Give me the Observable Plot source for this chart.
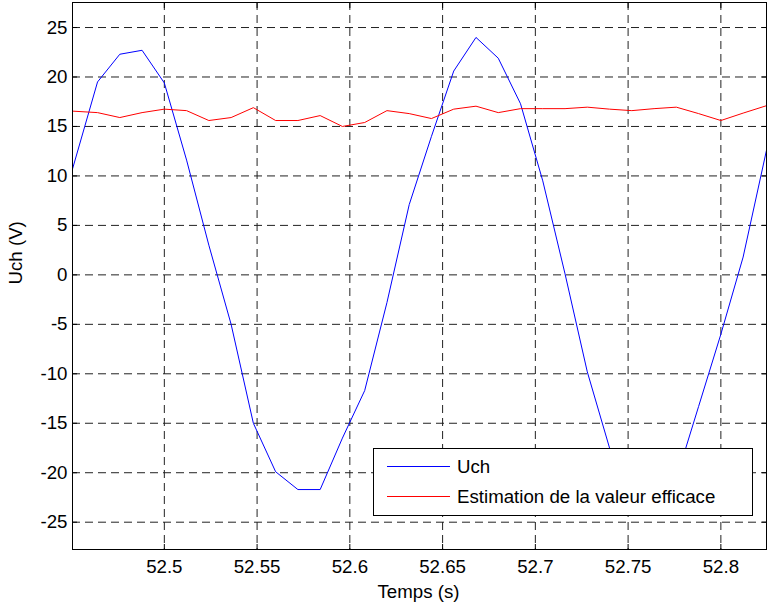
<!DOCTYPE html>
<html>
<head>
<meta charset="utf-8">
<script src="https://cdn.jsdelivr.net/npm/d3@7"></script>
<script src="https://cdn.jsdelivr.net/npm/@observablehq/plot@0.6"></script>
<style>
  html, body { margin: 0; padding: 0; background: #fff; }
  #wrap { position: relative; width: 767px; height: 603px; font-family: "Liberation Sans", Arial, sans-serif; }
  #legend { position: absolute; left: 373px; top: 448px; }
</style>
</head>
<body>
<div id="wrap"></div>
<script>
// Time samples (s)
const times = [52.4505, 52.464, 52.476, 52.488, 52.500, 52.512, 52.524, 52.536, 52.548, 52.560,
  52.572, 52.584, 52.596, 52.608, 52.620, 52.632, 52.644, 52.656, 52.668, 52.680,
  52.692, 52.704, 52.716, 52.728, 52.740, 52.752, 52.764, 52.776, 52.788, 52.800,
  52.812, 52.8246];
// Uch (V)
const uch = [10.7, 19.5, 22.3, 22.7, 19.4, 11.6, 3.0, -5.0, -15.0, -19.9,
  -21.7, -21.7, -16.5, -11.7, -2.8, 7.1, 14.0, 20.6, 24.0, 21.9,
  17.3, 9.5, 0.1, -9.8, -17.5, -21.3, -21.9, -20.6, -13.3, -6.0,
  1.8, 12.6];
// Estimation de la valeur efficace
const rms = [16.55, 16.4, 15.9, 16.4, 16.75, 16.6, 15.6, 15.9, 16.9, 15.6,
  15.6, 16.1, 15.0, 15.4, 16.6, 16.3, 15.8, 16.75, 17.05, 16.4,
  16.8, 16.8, 16.8, 16.95, 16.75, 16.6, 16.8, 16.95, 16.3, 15.6,
  16.35, 17.1];
const xTicks = [52.5, 52.55, 52.6, 52.65, 52.7, 52.75, 52.8];
const yTicks = [-25, -20, -15, -10, -5, 0, 5, 10, 15, 20, 25];
const seriesNames = ["Uch", "Estimation de la valeur efficace"];
const seriesColors = ["#0000ff", "#ff0000"];
const xLabel = "Temps (s)";
const yLabel = "Uch (V)";

const rowsU = times.map((t, i) => ({t, v: uch[i]}));
const rowsR = times.map((t, i) => ({t, v: rms[i]}));

const FS = 18.7;
const chart = Plot.plot({
  width: 767,
  height: 603,
  marginLeft: 72,
  marginRight: 1,
  marginTop: 2,
  marginBottom: 54,
  style: {fontFamily: "Liberation Sans, Arial, sans-serif", fontSize: FS + "px", color: "#000", background: "#fff"},
  x: {domain: [52.4505, 52.8246]},
  y: {domain: [-27.76, 27.53]},
  marks: [
    Plot.gridX(xTicks, {stroke: "#222", strokeOpacity: 1, strokeDasharray: "8,5"}),
    Plot.gridY(yTicks, {stroke: "#222", strokeOpacity: 1, strokeDasharray: "8,5"}),
    Plot.line(rowsU, {x: "t", y: "v", stroke: seriesColors[0], strokeWidth: 1, clip: true}),
    Plot.line(rowsR, {x: "t", y: "v", stroke: seriesColors[1], strokeWidth: 1, clip: true}),
    Plot.axisX(xTicks, {anchor: "bottom", tickSize: -5, tickPadding: 15, tickFormat: d => String(d), label: null}),
    Plot.axisX(xTicks, {anchor: "top", tickSize: -5, text: null, label: null}),
    Plot.axisY(yTicks, {anchor: "left", tickSize: -5, tickPadding: 10, tickFormat: d => String(d), label: null}),
    Plot.axisY(yTicks, {anchor: "right", tickSize: -5, text: null, label: null}),
    Plot.frame({stroke: "#000"}),
    Plot.text([xLabel], {text: d => d, frameAnchor: "bottom", dx: -1, dy: 42.5, fontSize: FS, lineAnchor: "middle", fill: "#000"}),
    Plot.text([yLabel], {text: d => d, frameAnchor: "left", rotate: -90, dx: -56.4, dy: 8.5, fontSize: FS, lineAnchor: "middle", fill: "#000"})
  ]
});
const wrap = document.getElementById("wrap");
wrap.appendChild(chart);

// Legend (drawn on top, opaque like MATLAB)
const ns = "http://www.w3.org/2000/svg";
const leg = document.createElementNS(ns, "svg");
leg.setAttribute("id", "legend");
leg.setAttribute("width", 380);
leg.setAttribute("height", 68);
const box = document.createElementNS(ns, "rect");
box.setAttribute("x", 0.5); box.setAttribute("y", 0.5);
box.setAttribute("width", 379); box.setAttribute("height", 67);
box.setAttribute("fill", "#fff"); box.setAttribute("stroke", "#000");
leg.appendChild(box);
seriesNames.forEach((name, i) => {
  const yLine = 18 + 30 * i;
  const ln = document.createElementNS(ns, "line");
  ln.setAttribute("x1", 14); ln.setAttribute("x2", 77);
  ln.setAttribute("y1", yLine + 0.5); ln.setAttribute("y2", yLine + 0.5);
  ln.setAttribute("stroke", seriesColors[i]);
  leg.appendChild(ln);
  const tx = document.createElementNS(ns, "text");
  tx.setAttribute("x", 84); tx.setAttribute("y", 25 + 30 * i);
  tx.setAttribute("font-size", String(FS));
  tx.setAttribute("font-family", "Liberation Sans, Arial, sans-serif");
  tx.setAttribute("fill", "#000");
  tx.textContent = name;
  leg.appendChild(tx);
});
wrap.appendChild(leg);
</script>
</body>
</html>
